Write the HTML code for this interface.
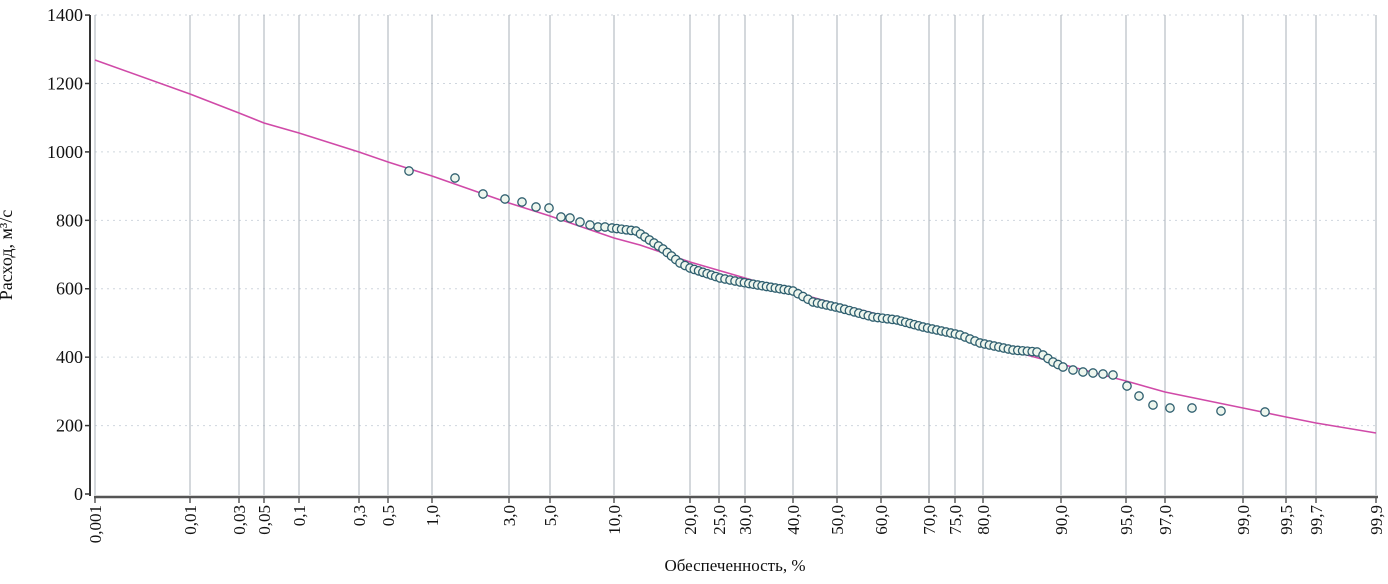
<!DOCTYPE html>
<html><head><meta charset="utf-8"><style>
html,body{margin:0;padding:0;background:#fff}
svg{display:block}
text{font-family:"Liberation Serif",serif;fill:#111}
</style></head><body>
<svg id="s" width="1388" height="584" xmlns="http://www.w3.org/2000/svg">
<g id="grid"></g>
<polyline fill="none" stroke="#d04aa8" stroke-width="1.6" points="95,60 190,94 239,113 264,123 299,133 359,152 388,162 432,176 509,203 550,216 614,238 640,245 690,262 745,278 793,292 837,304 881,315 929,327 983,343 1000,348 1061,364 1126,381 1165,392 1243,408 1286,417 1316,423 1376,433"/>
<g id="pts"></g>
<line x1="90" y1="15" x2="90" y2="496" stroke="#333" stroke-width="2"/>
<line x1="94" y1="497" x2="1378" y2="497" stroke="#555" stroke-width="2.5"/>
<text x="12" y="255" font-size="18" text-anchor="middle" transform="rotate(-90 12 255)">Расход, м³/с</text>
<text x="735" y="571" font-size="17" text-anchor="middle">Обеспеченность, %</text>
</svg>
<script>
var NS="http://www.w3.org/2000/svg",g=document.getElementById('grid'),p=document.getElementById('pts');
function el(t,a,par){var e=document.createElementNS(NS,t);for(var k in a)e.setAttribute(k,a[k]);par.appendChild(e);return e;}
function Y(v){return 494-v*0.3421;}
for(var v=0;v<=1400;v+=200){var y=Y(v);
 if(v>0)el('line',{x1:95,y1:y,x2:1378,y2:y,stroke:'#cfd6de','stroke-width':1,'stroke-dasharray':'2,4'},g);
 el('line',{x1:85,y1:y,x2:90,y2:y,stroke:'#333','stroke-width':1.5},g);
 var t=el('text',{x:83,y:y+6,'font-size':18,'text-anchor':'end'},g);t.textContent=v;}
var xs=[[95,'0,001'],[190,'0,01'],[239,'0,03'],[264,'0,05'],[299,'0,1'],[359,'0,3'],[388,'0,5'],[432,'1,0'],[509,'3,0'],[550,'5,0'],[614,'10,0'],[690,'20,0'],[719,'25,0'],[745,'30,0'],[793,'40,0'],[837,'50,0'],[881,'60,0'],[929,'70,0'],[955,'75,0'],[983,'80,0'],[1061,'90,0'],[1126,'95,0'],[1165,'97,0'],[1243,'99,0'],[1286,'99,5'],[1316,'99,7'],[1376,'99,9']];
xs.forEach(function(a){var x=a[0];
 el('line',{x1:x,y1:15,x2:x,y2:495,stroke:'#a9b0ba','stroke-width':1},g);
 el('line',{x1:x,y1:497,x2:x,y2:503,stroke:'#333','stroke-width':1.2},g);
 var t=el('text',{x:0,y:0,'font-size':17,'text-anchor':'end',transform:'translate('+(x+6)+',505) rotate(-90)'},g);t.textContent=a[1];});
var anchors=[[612,228],[636,231],[645,237],[663,249],[680,263],[690,268],[720,278],[740,282],[793,291],[813,302],[840,308],[873,317],[897,320],[923,327],[960,335],[980,343],[1013,350],[1037,352],[1043,355],[1053,362],[1063,367]];
var pts=[[409,171],[455,178],[483,194],[505,199],[522,202],[536,207],[549,208],[561,217],[570,218],[580,222],[590,225],[598,227],[605,227]];
for(var i=0;i<anchors.length-1;i++){var a=anchors[i],b=anchors[i+1],n=Math.max(1,Math.round((b[0]-a[0])/4.6));
 for(var j=0;j<n;j++){var f=j/n;pts.push([a[0]+(b[0]-a[0])*f,a[1]+(b[1]-a[1])*f]);}}
pts=pts.concat([[1063,367],[1073,370],[1083,372],[1093,373],[1103,374],[1113,375],[1127,386],[1139,396],[1153,405],[1170,408],[1192,408],[1221,411],[1265,412]]);
pts.forEach(function(q){el('circle',{cx:q[0],cy:q[1],r:4.2,fill:'#eef6ee',stroke:'#2f5f6f','stroke-width':1.3},p);});
</script>
</body></html>
